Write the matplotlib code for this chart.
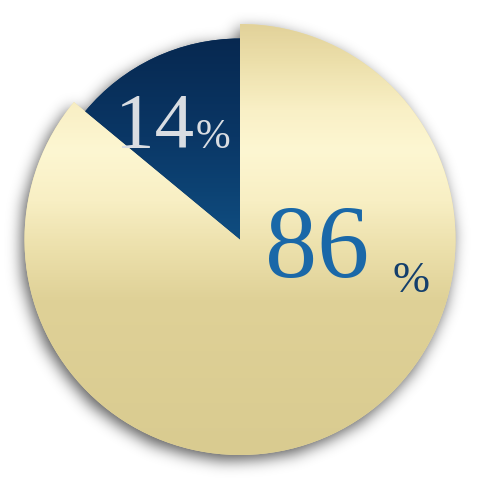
import numpy as np
import matplotlib
matplotlib.use("Agg")
import matplotlib.pyplot as plt
from matplotlib.colors import LinearSegmentedColormap

# ---- data ----
categories = ["minority", "majority"]
values = [14, 86]
label_texts = ["14", "86"]
slice_colors = ["#0b3565", "#ecdfa8"]

W = H = 479
R = 215.5            # px radius of the outer (gold) slice
CX, CY = 240.0, 239.5

fig = plt.figure(figsize=(W / 100, H / 100), dpi=100)
ax = fig.add_axes([0, 0, 1, 1])

wedges, _ = ax.pie(values, startangle=90, counterclock=True, colors=slice_colors,
                   radius=1.0, center=(0, 0), frame=False,
                   wedgeprops=dict(linewidth=0))
blue, gold = wedges
blue.set_radius(201.0 / R)

xlim = (-CX / R, (W - CX) / R)
ylim = (-(H - CY) / R, CY / R)
ax.set_xlim(*xlim)
ax.set_ylim(*ylim)
ax.set_aspect('auto')
ax.axis('off')
ext = (xlim[0], xlim[1], ylim[0], ylim[1])

# ---- drop shadow ----
xp = np.arange(W) + 0.5
yp = np.arange(H) + 0.5
XX, YY = np.meshgrid(xp, yp)
pts = np.column_stack([((XX - CX) / R).ravel(), ((CY - YY) / R).ravel()])
mask = np.zeros(W * H)
for w in wedges:
    mask = np.maximum(mask, w.get_path().contains_points(pts).astype(float))
mask = mask.reshape(H, W)
mask = np.roll(mask, 5, axis=0)
mask = np.roll(mask, -3, axis=1)

def blur(a, s):
    r = int(3 * s)
    k = np.exp(-0.5 * (np.arange(-r, r + 1) / s) ** 2)
    k /= k.sum()
    a = np.apply_along_axis(lambda m: np.convolve(m, k, mode='same'), 0, a)
    a = np.apply_along_axis(lambda m: np.convolve(m, k, mode='same'), 1, a)
    return a

sh = blur(mask, 7.5)
shadow = np.zeros((H, W, 4))
shadow[..., 3] = np.clip(sh * 0.65, 0, 1)
ax.imshow(shadow, extent=ext, origin='upper', zorder=0.5, interpolation='bilinear')
for w in wedges:
    w.set_zorder(1)

# ---- gradients ----
gold_stops = [(24, "#e2d29a"), (60, "#ecdfaa"), (110, "#f9f0c6"), (150, "#fdf7d2"),
              (200, "#f8efc4"), (250, "#ece0ab"), (300, "#dfd197"), (455, "#d9cb90")]
gold_cmap = LinearSegmentedColormap.from_list(
    "gold", [((y - 24) / (455 - 24), c) for y, c in gold_stops])
blue_cmap = LinearSegmentedColormap.from_list("blue", ["#072850", "#0a3766", "#0f4d80"])

ycol = (yp[:, None] * np.ones((1, W)))
g_img = np.clip((ycol - 24) / (455 - 24), 0, 1)
im = ax.imshow(g_img, cmap=gold_cmap, vmin=0, vmax=1, extent=ext, origin='upper',
               zorder=1.5, interpolation='bilinear')
im.set_clip_path(gold)

b_img = np.clip((ycol - 37) / (238 - 37), 0, 1)
im2 = ax.imshow(b_img, cmap=blue_cmap, vmin=0, vmax=1, extent=ext, origin='upper',
                zorder=1.5, interpolation='bilinear')
im2.set_clip_path(blue)

# ---- labels ----
def d(x, y):
    return (x - CX) / R, (CY - y) / R

serif = ['Liberation Serif', 'DejaVu Serif']
ax.text(*d(115, 147), label_texts[0], fontsize=57, family=serif, color="#d9dde2",
        ha='left', va='baseline', zorder=3)
ax.text(*d(196, 148), "%", fontsize=30, family=serif, color="#d9dde2",
        ha='left', va='baseline', zorder=3)
ax.text(*d(265, 277), label_texts[1], fontsize=75, family=serif, color="#1a68a8",
        ha='left', va='baseline', zorder=3)
ax.text(*d(392, 292), "%", fontsize=32, family=serif, color="#143f6c",
        ha='left', va='baseline', zorder=3)

fig.savefig("out.png", dpi=100)
